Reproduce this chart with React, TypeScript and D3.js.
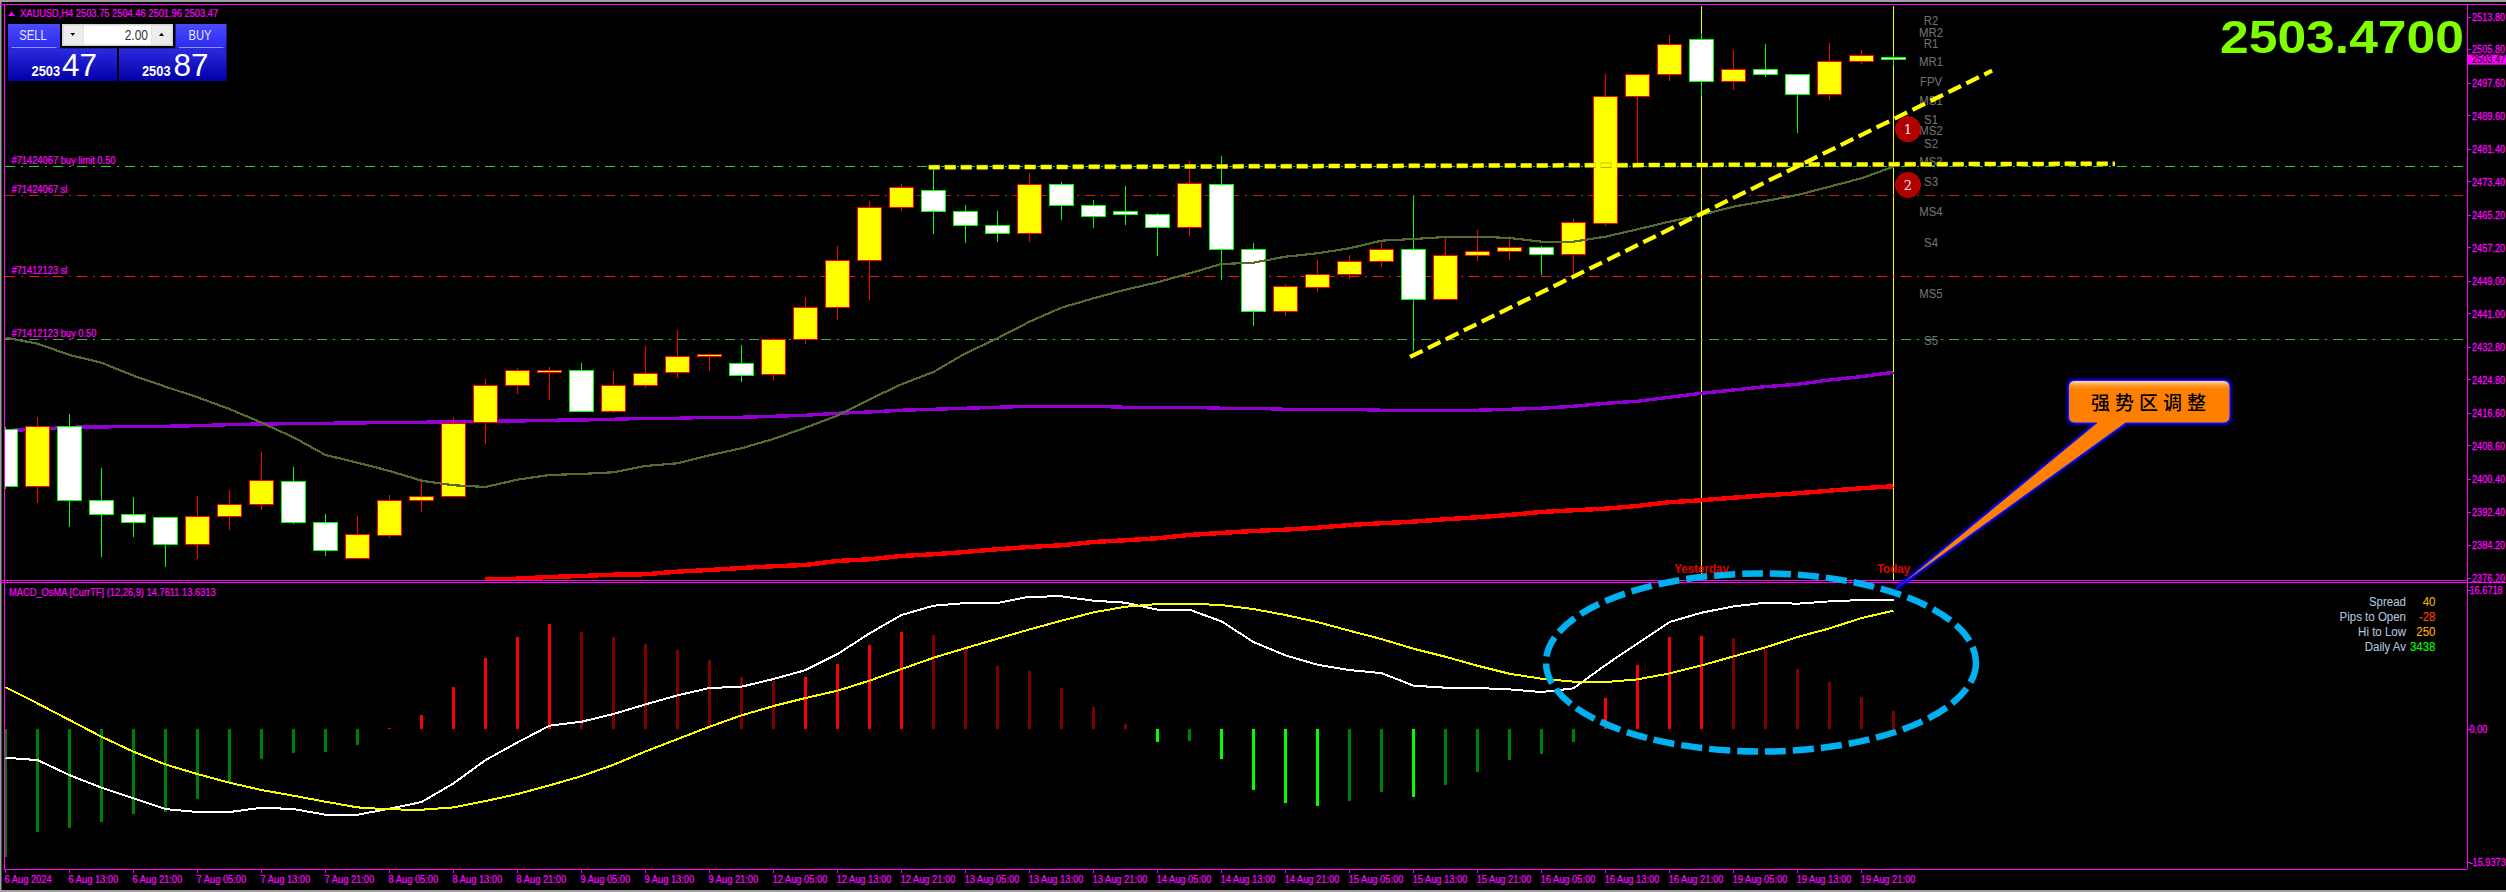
import React from "react";
import * as d3 from "d3";

const opens = [2412.53,2398.62,2413.43,2395.29,2391.86,2391.12,2384.40,2391.26,2394.21,2399.95,2389.89,2380.97,2386.61,2395.19,2396.17,2414.32,2423.39,2427.10,2427.16,2417.11,2423.39,2426.58,2430.43,2428.88,2426.09,2434.77,2442.61,2454.04,2467.04,2471.30,2466.16,2462.72,2460.66,2472.78,2467.63,2466.16,2465.42,2462.13,2472.78,2456.84,2441.53,2447.42,2450.61,2453.80,2456.84,2444.48,2455.27,2456.25,2457.33,2455.51,2463.11,2494.26,2499.65,2508.33,2497.94,2500.98,2499.75,2494.75,2502.84,2503.75];
const highs = [2413.26,2415.71,2416.45,2403.21,2396.10,2391.12,2396.34,2397.81,2407.13,2403.45,2391.93,2391.44,2396.59,2400.75,2415.71,2425.03,2427.73,2427.97,2428.96,2426.99,2433.12,2437.05,2431.09,2433.37,2435.09,2445.14,2457.65,2468.68,2473.02,2476.77,2467.70,2466.23,2475.55,2473.34,2468.93,2472.60,2465.74,2478.73,2479.72,2458.38,2448.50,2454.21,2455.44,2458.95,2470.08,2459.93,2461.57,2460.10,2457.82,2464.44,2500.00,2500.00,2509.63,2510.12,2505.88,2507.18,2500.00,2507.43,2505.95,2504.46];
const lows = [2398.06,2394.62,2388.74,2381.38,2386.29,2378.93,2380.89,2388.00,2392.91,2389.55,2381.63,2380.97,2386.04,2392.42,2396.17,2409.09,2421.35,2419.96,2417.11,2416.77,2422.82,2425.35,2427.07,2424.30,2424.79,2433.69,2439.50,2444.40,2466.23,2460.59,2458.38,2458.63,2458.63,2464.02,2462.06,2462.80,2455.19,2460.10,2449.31,2438.03,2440.48,2446.37,2449.63,2452.57,2431.90,2444.48,2453.97,2454.21,2450.53,2450.12,2462.55,2477.51,2498.11,2494.67,2495.90,2499.33,2485.36,2493.69,2502.28,2501.96];
const closes = [2398.62,2413.43,2395.19,2391.76,2389.79,2384.40,2391.36,2394.31,2400.19,2389.79,2382.93,2386.95,2395.29,2396.27,2414.17,2423.49,2427.16,2427.16,2417.11,2423.49,2426.43,2430.60,2431.09,2425.84,2434.77,2442.61,2454.14,2467.14,2472.04,2466.06,2462.62,2460.66,2472.78,2467.53,2464.83,2465.32,2462.13,2473.02,2456.74,2441.53,2447.76,2450.71,2453.89,2456.84,2444.48,2455.37,2456.35,2457.33,2455.44,2463.46,2494.36,2499.75,2507.11,2497.94,2500.98,2499.65,2494.75,2502.94,2504.24,2503.47];

const oliveMA = [2435.16,2433.69,2430.92,2429.03,2425.84,2423.14,2420.54,2417.67,2414.32,2410.73,2406.39,2404.51,2402.47,2400.09,2398.96,2398.55,2400.34,2401.49,2401.74,2402.15,2403.70,2404.36,2406.32,2408.04,2410.32,2413.09,2416.03,2420.05,2423.73,2426.75,2431.33,2435.01,2439.08,2442.52,2444.82,2446.93,2448.74,2450.95,2453.23,2453.55,2455.02,2455.86,2457.08,2458.95,2459.36,2459.85,2459.93,2459.61,2458.70,2458.70,2459.93,2461.74,2463.61,2465.25,2467.28,2468.68,2470.15,2472.19,2474.25,2477.09];
const purpleMA = [2412.40,2412.70,2413.19,2413.26,2413.43,2413.43,2413.58,2413.83,2414.00,2414.07,2414.17,2414.24,2414.41,2414.41,2414.56,2414.66,2414.73,2414.90,2414.98,2415.15,2415.39,2415.39,2415.64,2415.64,2415.88,2416.13,2416.62,2416.94,2417.36,2417.60,2417.85,2418.09,2418.34,2418.34,2418.34,2418.09,2418.09,2418.09,2417.85,2417.85,2417.60,2417.60,2417.60,2417.36,2417.36,2417.36,2417.36,2417.60,2417.85,2418.34,2419.07,2419.56,2420.55,2421.53,2422.33,2423.14,2423.73,2424.79,2425.60,2426.68];
const redMAStart = 15;
const redMA = [2375.86,2376.06,2376.48,2376.72,2377.04,2377.14,2377.78,2378.19,2378.69,2379.10,2379.42,2380.40,2380.82,2381.63,2382.04,2382.61,2383.27,2383.83,2384.25,2385.06,2385.48,2385.97,2386.78,2387.27,2387.76,2388.08,2388.56,2389.23,2389.65,2390.04,2390.63,2391.12,2391.68,2392.42,2392.83,2393.23,2393.89,2394.80,2395.29,2395.92,2396.51,2397.00,2397.64,2398.23,2398.72];

const histogram = [-15.31,-12.31,-11.83,-11.11,-10.19,-9.91,-8.35,-6.43,-3.56,-2.84,-2.72,-1.88,0.12,1.68,5.04,8.51,11.03,12.59,11.63,11.03,10.19,9.47,8.27,6.24,5.76,6.24,7.79,10.07,11.63,11.27,9.55,7.55,6.95,4.92,2.64,0.60,-1.56,-1.44,-3.60,-7.31,-8.87,-9.23,-8.63,-7.55,-8.15,-6.71,-5.16,-3.72,-3.00,-1.56,3.72,7.67,11.03,11.15,10.91,9.63,7.19,5.64,3.84,2.16];
const macdLine = [-3.44,-3.72,-5.52,-7.03,-8.31,-9.59,-9.95,-9.95,-9.43,-9.59,-10.27,-10.27,-9.55,-8.75,-6.51,-3.72,-1.60,0.40,0.88,1.80,2.96,4.04,4.92,5.08,6.00,7.07,8.99,11.47,13.67,14.79,15.11,15.11,15.87,15.91,15.39,15.15,14.31,14.31,12.91,10.43,8.83,7.71,7.07,6.71,5.20,4.96,4.92,4.76,4.44,4.88,7.67,10.27,12.83,13.95,14.71,15.15,15.03,15.31,15.47,15.47];
const signalLine = [5.00,3.08,1.08,-0.92,-2.72,-4.24,-5.40,-6.43,-7.31,-7.99,-8.71,-9.39,-9.63,-9.67,-9.39,-8.63,-7.79,-6.75,-5.64,-4.28,-2.68,-1.20,0.28,1.64,2.76,3.72,4.60,5.80,7.19,8.55,9.71,10.83,11.95,12.99,13.99,14.67,14.99,15.03,14.87,14.39,13.67,12.83,11.79,10.79,9.63,8.67,7.59,6.63,6.04,5.68,5.64,5.96,6.67,7.63,8.71,9.79,11.03,12.07,13.31,14.19];

const priceTicks = [2513.8,2505.8,2497.6,2489.6,2481.4,2473.4,2465.2,2457.2,2449.0,2441.0,2432.8,2424.8,2416.6,2408.6,2400.4,2392.4,2384.2,2376.2];
const macdTicks = [16.6718,0,-15.9373];
const macdTickLabels = ["16.6718","0.00","-15.9373"];
const timeLabels = ["6 Aug 2024","6 Aug 13:00","6 Aug 21:00","7 Aug 05:00","7 Aug 13:00","7 Aug 21:00","8 Aug 05:00","8 Aug 13:00","8 Aug 21:00","9 Aug 05:00","9 Aug 13:00","9 Aug 21:00","12 Aug 05:00","12 Aug 13:00","12 Aug 21:00","13 Aug 05:00","13 Aug 13:00","13 Aug 21:00","14 Aug 05:00","14 Aug 13:00","14 Aug 21:00","15 Aug 05:00","15 Aug 13:00","15 Aug 21:00","16 Aug 05:00","16 Aug 13:00","16 Aug 21:00","19 Aug 05:00","19 Aug 13:00","19 Aug 21:00"];

const levelPrices = [2477.19,2470.08,2450.22,2434.77];
const levelColors = ["#1fdc1f","#c81e1e","#ff1010","#3fb030"];
const levelLabels = ["#71424067 buy limit 0.50","#71424067 sl","#71412123 sl","#71412123 buy 0.50"];

const pivotNames = ["R2","MR2","R1","MR1","FPV","MS1","S1","MS2","S2","MS3","S3","MS4","S4","MS5","S5"];
const pivotPrices = [2513.0,2510.1,2507.4,2502.8,2498.1,2493.4,2488.8,2485.9,2482.9,2478.3,2473.6,2466.2,2458.6,2446.1,2434.4];

const trendBars = [[28.85,65.92],[43.89,62.08]];
const trendPrices = [[2476.94,2477.83],[2430.43,2500.63]];

const infoNames = ["Spread","Pips to Open","Hi to Low","Daily Av"];
const infoValues = ["40","-28","250","3438"];
const infoColors = ["#e8b400","#ff4500","#ffb000","#00ff00"];
const markerPrices = [2486.3,2472.6];
const markerNames = ["1","2"];

const W = 2506, H = 892;
const FONT = "'Liberation Sans', Arial, sans-serif";
const MAG = "#ff00ff";
const x = d3.scaleLinear().domain([0, 59]).range([5.5, 1893.5]);
const y = d3.scaleLinear().domain([2513.8, 2376.2]).range([17, 578.1]);
const ym = d3.scaleLinear().domain([16.6718, -15.9373]).range([590, 862]);
const snap = (v: number) => Math.round(v - 0.5) + 0.5;

function T({ x: tx, y: ty, s = 11.5, k = 0.81, fill = MAG, a = "start", w = 400, f = FONT, bold = 0.25, children }: any) {
  return (
    <text transform={`translate(${tx},${ty}) scale(${k},1)`} fontFamily={f} fontSize={s} fontWeight={w} fill={fill} stroke={fill} strokeWidth={bold} textAnchor={a} dominantBaseline="central">
      {children}
    </text>
  );
}

const maLine = d3.line<number>().x((_, i) => x(i)).y((d) => y(d));
const redLine = d3.line<number>().x((_, i) => x(i + redMAStart)).y((d) => y(d));
const mLine = d3.line<number>().x((_, i) => x(i)).y((d) => ym(d));

export default function App() {
  const tipX = 1896, tipY = 588.5;
  const callout = `M2075,380.5 H2223 Q2230,380.5 2230,387.5 V416 Q2230,423 2223,423 H2125.6 L${tipX},${tipY} L2096.7,423 H2075 Q2068.5,423 2068.5,416 V387.5 Q2068.5,380.5 2075,380.5 Z`;
  return (
    <svg width={W} height={H} viewBox={`0 0 ${W} ${H}`} style={{ position: "absolute", left: 0, top: 0, display: "block", background: "#000" }}>
      <defs>
        <clipPath id="main"><rect x={5} y={5} width={2462} height={575} /></clipPath>
        <linearGradient id="btn" x1="0" y1="0" x2="0" y2="1">
          <stop offset="0" stopColor="#4a4aff" /><stop offset="1" stopColor="#2a2af0" />
        </linearGradient>
        <linearGradient id="pnl" x1="0" y1="0" x2="0" y2="1">
          <stop offset="0" stopColor="#2c2ce0" /><stop offset="1" stopColor="#0000a8" />
        </linearGradient>
        <linearGradient id="org" x1="0" y1="380" x2="0" y2="425" gradientUnits="userSpaceOnUse">
          <stop offset="0" stopColor="#ffe8c8" /><stop offset="0.12" stopColor="#ff9a30" /><stop offset="0.2" stopColor="#ff8000" /><stop offset="1" stopColor="#ff8000" />
        </linearGradient>
        <filter id="glow" x="-10%" y="-10%" width="120%" height="120%"><feGaussianBlur stdDeviation="1.2" /></filter>
      </defs>
      <rect width={W} height={H} fill="#000" />
      {/* window frame */}
      <rect x={0} y={0} width={W} height={2} fill="#a0a0a0" />
      <rect x={0} y={0} width={1.5} height={H} fill="#a0a0a0" />
      <rect x={0} y={890} width={W} height={2} fill="#a0a0a0" />

      <g clipPath="url(#main)">
        {[53, 59].map((b) => (
          <line key={b} x1={x(b)} x2={x(b)} y1={6} y2={580} stroke="#ffff00" strokeWidth={1} shapeRendering="crispEdges" />
        ))}
        {levelPrices.map((p, i) => (
          <line key={i} x1={5} x2={2466} y1={snap(y(p))} y2={snap(y(p))} stroke={levelColors[i]} strokeWidth={1} strokeDasharray="10,6,2,6" shapeRendering="crispEdges" />
        ))}
        <path d={redLine(redMA) as string} fill="none" stroke="#ff0000" strokeWidth={4.4} shapeRendering="crispEdges" />
        <path d={maLine(purpleMA) as string} fill="none" stroke="#9400d3" strokeWidth={3.4} shapeRendering="crispEdges" />
        {/* candles */}
        {opens.map((o, i) => {
          const c = closes[i];
          const up = c >= o;
          const cx = x(i);
          const top = snap(y(Math.max(o, c)));
          const bot = Math.max(snap(y(Math.min(o, c))), top + 2);
          const line = up ? "#ff0000" : "#00ff00";
          return (
            <g key={i} shapeRendering="crispEdges">
              <line x1={cx} x2={cx} y1={snap(y(highs[i]))} y2={snap(y(lows[i]))} stroke={line} strokeWidth={1} />
              <rect x={cx - 12} y={top} width={24} height={bot - top} fill={up ? "#ffff00" : "#ffffff"} stroke={line} strokeWidth={1} />
            </g>
          );
        })}
        <path d={maLine(oliveMA) as string} fill="none" stroke="#556b2f" strokeWidth={2.2} shapeRendering="crispEdges" />
      </g>

      {/* pivot labels */}
      {pivotNames.map((n, i) => (
        <T key={n} x={1931} y={y(pivotPrices[i])} s={12} k={0.95} a="middle" fill="#707070" bold={0.1}>{n}</T>
      ))}

      {/* trend lines */}
      {trendBars.map((b, i) => {
        const pts: [number, number][] = [[x(b[0]), y(trendPrices[i][0])], [x(b[1]), y(trendPrices[i][1])]];
        const d = d3.line()(pts) as string;
        return (
          <g key={i}>
            {i === 0 && <path d={d} stroke="#77770a" strokeWidth={5} strokeDasharray="11,5" fill="none" />}
            <path d={d} stroke="#ffff00" strokeWidth={i === 0 ? 4 : 4.2} strokeDasharray={i === 0 ? "11,5" : "14,6"} fill="none" />
          </g>
        );
      })}

      {/* numbered markers */}
      {markerPrices.map((p, i) => (
        <g key={i}>
          <circle cx={1908} cy={y(p)} r={12.5} fill="#b00000" stroke="#d00000" strokeWidth={1} />
          <T x={1908} y={y(p)} s={13} k={1} a="middle" fill="#f4e0e0" f="'DejaVu Serif', serif" bold={0}>{markerNames[i]}</T>
        </g>
      ))}

      {/* level labels */}
      {levelPrices.map((p, i) => (
        <T key={i} x={11.5} y={y(p) - 5.8} >{levelLabels[i]}</T>
      ))}

      {/* Header */}
      <path d="M8,16 L15,16 L11.5,11.5 Z" fill={MAG} />
      <T x={20} y={12.8}>XAUUSD,H4  2503.75 2504.46 2501.96 2503.47</T>

      {/* Trade panel */}
      <rect x={8} y={24} width={52} height={24.5} fill="url(#btn)" />
      <rect x={11.5} y={47.2} width={45} height={0.9} fill="#a8a8ff" />
      <T x={33} y={35.5} s={14} k={0.8} a="middle" fill="#e8e8ff" bold={0}>SELL</T>
      <rect x={175.5} y={24} width={51} height={24.5} fill="url(#btn)" />
      <rect x={179} y={47.2} width={44.5} height={0.9} fill="#a8a8ff" />
      <T x={200} y={35.5} s={14} k={0.8} a="middle" fill="#e8e8ff" bold={0}>BUY</T>
      <rect x={62} y={24} width={111} height={22} fill="#d4d4d4" />
      <rect x={63.5} y={25.5} width={20} height={19} fill="#ececec" />
      <rect x={84} y={25.5} width={67} height={19} fill="#ffffff" />
      <rect x={151.5} y={25.5} width={20} height={19} fill="#ececec" />
      <path d="M70.5,33 L75,33 L72.7,36 Z" fill="#000" />
      <path d="M159,36 L164,36 L161.5,32.7 Z" fill="#000" />
      <T x={148} y={35} s={15} k={0.8} a="end" fill="#333" bold={0}>2.00</T>
      <rect x={8} y={48.3} width={109} height={32.7} fill="url(#pnl)" />
      <rect x={119} y={48.3} width={107.5} height={32.7} fill="url(#pnl)" />
      <text x={31} y={76} fontFamily={FONT} fontSize={14} fontWeight={700} fill="#fff" transform="translate(3,0) scale(0.92,1)">2503</text>
      <text x={62} y={76} fontFamily={FONT} fontSize={31.5} fill="#fff">47</text>
      <text x={151} y={76} fontFamily={FONT} fontSize={14} fontWeight={700} fill="#fff" transform="translate(3,0) scale(0.92,1)">2503</text>
      <text x={173.5} y={76} fontFamily={FONT} fontSize={31.5} fill="#fff">87</text>

      {/* Big price */}
      <text x={2220} y={53} fontFamily={FONT} fontSize={46} fontWeight={700} fill="#7fff00" textLength={244} lengthAdjust="spacingAndGlyphs">2503.4700</text>

      {/* MACD panel */}
      <T x={9} y={591.8}>MACD_OsMA [CurrTF] (12,26,9) 14.7611 13.6313</T>
      {histogram.map((v, i) => {
        const prev = i > 0 ? histogram[i - 1] : v;
        const grows = i > 0 && (Math.abs(v) > Math.abs(prev) || Math.sign(v) !== Math.sign(prev));
        const col = v >= 0 ? (grows ? "#ff0000" : "#800000") : grows ? "#00ff00" : "#008000";
        return <rect key={i} x={x(i) - 1.5} y={Math.min(ym(0), ym(v))} width={3} height={Math.abs(ym(v) - ym(0))} fill={col} shapeRendering="crispEdges" />;
      })}
      <path d={mLine(macdLine) as string} fill="none" stroke="#ffffff" strokeWidth={2} shapeRendering="crispEdges" />
      <path d={mLine(signalLine) as string} fill="none" stroke="#ffff00" strokeWidth={2} shapeRendering="crispEdges" />

      {infoNames.map((n, i) => (
        <g key={n}>
          <T x={2406} y={601.5 + i * 15.1} s={12.5} k={0.92} a="end" fill="#b0c4de" bold={0.1}>{n}</T>
          <T x={2435.5} y={601.5 + i * 15.1} s={12.5} k={0.92} a="end" fill={infoColors[i]} bold={0.1}>{infoValues[i]}</T>
        </g>
      ))}

      {/* Yesterday / Today */}
      <T x={x(53)} y={569} s={13} k={0.89} w={700} a="middle" fill="#e00000" bold={0}>Yesterday</T>
      <T x={x(59)} y={569} s={13} k={0.89} w={700} a="middle" fill="#e00000" bold={0}>Today</T>

      {/* Frame lines and axes */}
      <g stroke={MAG} strokeWidth={1} shapeRendering="crispEdges">
        <line x1={0} x2={W} y1={4.5} y2={4.5} />
        <line x1={4.5} x2={4.5} y1={4} y2={869} />
        <line x1={0} x2={2467} y1={580.5} y2={580.5} />
        <line x1={0} x2={W} y1={582.5} y2={582.5} />
        <line x1={4} x2={2467} y1={869.5} y2={869.5} />
        <line x1={2467.5} x2={2467.5} y1={4} y2={869} />
        {priceTicks.map((p) => (
          <line key={p} x1={2467} x2={2471} y1={snap(y(p))} y2={snap(y(p))} />
        ))}
        {macdTicks.map((p) => (
          <line key={p} x1={2467} x2={2471} y1={snap(ym(p))} y2={snap(ym(p))} />
        ))}
        {timeLabels.map((_, i) => (
          <line key={i} x1={x(i * 2)} x2={x(i * 2)} y1={869} y2={873} />
        ))}
      </g>
      {priceTicks.map((p) => (
        <T key={p} x={2472} y={y(p)} k={0.8}>{p.toFixed(2)}</T>
      ))}
      {macdTicks.map((p, i) => (
        <T key={p} x={2469.5} y={ym(p)} k={0.8}>{macdTickLabels[i]}</T>
      ))}
      {timeLabels.map((t, i) => (
        <T key={t} x={x(i * 2) - 1} y={878.7}>{t}</T>
      ))}

      {/* Current price tag */}
      <rect x={2468} y={y(2503.47) - 4.5} width={38} height={10} fill={MAG} />
      <T x={2472} y={y(2503.47)} k={0.8} fill="#000" bold={0.1}>2503.47</T>

      {/* Ellipse */}
      <ellipse cx={1761} cy={662.5} rx={215} ry={89} fill="none" stroke="#00b0f0" strokeWidth={6.5} strokeDasharray="21,7" />

      {/* Callout */}
      <path d={callout} fill="none" stroke="#0000ff" strokeWidth={3.5} filter="url(#glow)" />
      <path d={callout} fill="url(#org)" stroke="#1414ff" strokeWidth={1} />
      <text x={2151} y={401} fontFamily="'Noto Sans CJK SC', sans-serif" fontSize={19} fontWeight={500} letterSpacing={5} fill="#000" textAnchor="middle" dominantBaseline="central">强势区调整</text>
    </svg>
  );
}
